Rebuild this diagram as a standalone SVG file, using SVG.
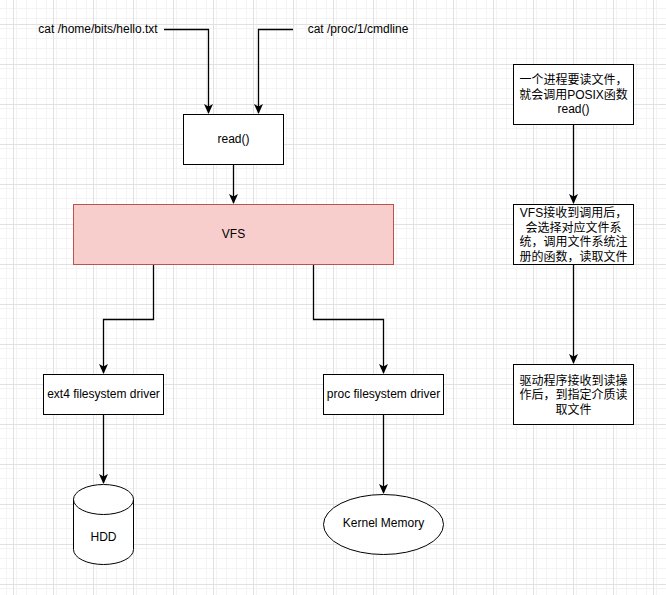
<svg xmlns="http://www.w3.org/2000/svg" width="666" height="595" viewBox="0 0 666 595">
<defs>
<pattern id="minor" x="13" y="24" width="10" height="10" patternUnits="userSpaceOnUse">
<path d="M0 0.5H10M0.5 0V10" stroke="#f3f3f3" stroke-width="1" fill="none"/>
</pattern>
<pattern id="major" x="13" y="24" width="40" height="40" patternUnits="userSpaceOnUse">
<rect width="40" height="40" fill="url(#minor)"/>
<path d="M0 0.5H40M0.5 0V40" stroke="#e1e1e1" stroke-width="1" fill="none"/>
</pattern>
<marker id="arr" viewBox="0 0 10 10" refX="9" refY="5" markerWidth="10" markerHeight="10" markerUnits="userSpaceOnUse" orient="auto">
<path d="M0 0.5L10 5L0 9.5L2.5 5Z" fill="#000"/>
</marker>
</defs>
<style>
text{font-family:"Liberation Sans","Noto Sans CJK SC",Arial,sans-serif;font-size:12px;fill:#000;text-anchor:middle;dominant-baseline:central}
.box{fill:#fff;stroke:#000;stroke-width:1}
.edge{fill:none;stroke:#000;stroke-width:1.3;marker-end:url(#arr)}
</style>
<rect width="666" height="595" fill="#fff"/>
<rect width="666" height="595" fill="url(#major)"/>

<g id="connectors">
<path class="edge" d="M164 29.5H208.5V113"/>
<path class="edge" d="M293 29.5H258.5V113"/>
<path class="edge" d="M233.5 164V203"/>
<path class="edge" d="M153.5 264V319.5H103.5V373"/>
<path class="edge" d="M313.5 264V319.5H383.5V373"/>
<path class="edge" d="M103.5 414V483"/>
<path class="edge" d="M383.5 414V493"/>
<path class="edge" d="M573.5 124V203"/>
<path class="edge" d="M573.5 264V363"/>
</g>

<g id="label-hello"><text x="98" y="29">cat /home/bits/hello.txt</text></g>
<g id="label-proc"><text x="358" y="29">cat /proc/1/cmdline</text></g>

<g id="read"><rect class="box" x="183.5" y="114.5" width="100" height="50"/><text x="233.5" y="139">read()</text></g>

<g id="vfs"><rect x="73.5" y="204.5" width="320" height="60" fill="#f8cecc" stroke="#b85450"/><text x="233.5" y="234">VFS</text></g>

<g id="ext4"><rect class="box" x="43.5" y="374.5" width="120" height="40"/><text x="103.5" y="394">ext4 filesystem driver</text></g>

<g id="procfs"><rect class="box" x="323.5" y="374.5" width="120" height="40"/><text x="383.5" y="394">proc filesystem driver</text></g>

<g id="hdd">
<path d="M73.5 499.5A30 15 0 0 1 133.5 499.5V549.5A30 15 0 0 1 73.5 549.5Z" fill="#fff" stroke="#000"/>
<path d="M73.5 499.5A30 15 0 0 0 133.5 499.5" fill="none" stroke="#000"/>
<text x="103.5" y="537">HDD</text>
</g>

<g id="kernel-memory"><ellipse cx="383.5" cy="524.5" rx="60" ry="30" fill="#fff" stroke="#000"/><text x="383.5" y="523">Kernel Memory</text></g>

<g id="note1"><rect class="box" x="513.5" y="64.5" width="120" height="60"/>
<text x="573.5" y="80">一个进程要读文件，</text>
<text x="573.5" y="94.5">就会调用POSIX函数</text>
<text x="573.5" y="109">read()</text></g>

<g id="note2"><rect class="box" x="513.5" y="204.5" width="120" height="60"/>
<text x="573.5" y="213">VFS接收到调用后，</text>
<text x="573.5" y="227.5">会选择对应文件系</text>
<text x="573.5" y="242">统，调用文件系统注</text>
<text x="573.5" y="256.5">册的函数，读取文件</text></g>

<g id="note3"><rect class="box" x="513.5" y="364.5" width="120" height="60"/>
<text x="573.5" y="381">驱动程序接收到读操</text>
<text x="573.5" y="395">作后，到指定介质读</text>
<text x="573.5" y="409.5">取文件</text></g>
</svg>
